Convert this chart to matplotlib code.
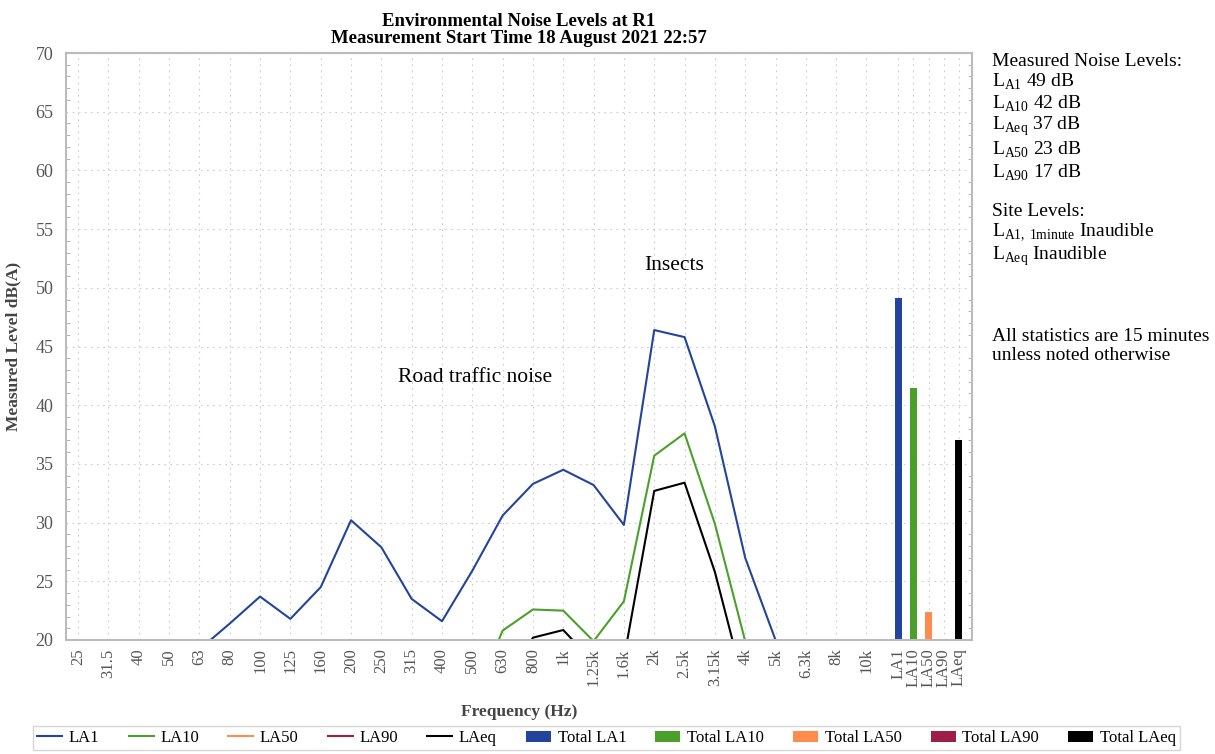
import numpy as np
import matplotlib
matplotlib.use("Agg")
import matplotlib.pyplot as plt
from matplotlib.ticker import MultipleLocator

plt.rcParams['font.family'] = ['Liberation Serif', 'DejaVu Serif']
plt.rcParams['mathtext.fontset'] = 'custom'
plt.rcParams['mathtext.rm'] = 'Liberation Serif'

# ---- data ----
freqs = ['25', '31.5', '40', '50', '63', '80', '100', '125', '160', '200', '250', '315',
         '400', '500', '630', '800', '1k', '1.25k', '1.6k', '2k', '2.5k', '3.15k', '4k',
         '5k', '6.3k', '8k', '10k']
stats = ['LA1', 'LA10', 'LA50', 'LA90', 'LAeq']

la1 = [12.0, 13.0, 14.0, 16.0, 19.2, 21.4, 23.7, 21.8, 24.5, 30.2, 27.9, 23.5, 21.6, 25.9,
       30.6, 33.3, 34.5, 33.2, 29.8, 46.4, 45.8, 38.2, 27.0, 20.0, 16.0, 14.0, 12.0]
la10 = [8.0, 9.0, 10.0, 11.0, 12.0, 13.0, 14.0, 13.0, 14.0, 16.0, 15.0, 14.0, 13.0, 14.6,
        20.8, 22.6, 22.5, 19.9, 23.3, 35.7, 37.6, 29.9, 19.9, 16.0, 13.0, 11.0, 9.0]
la50 = [5.0, 6.0, 7.0, 8.0, 9.0, 10.0, 11.0, 10.0, 11.0, 12.0, 12.0, 11.0, 10.0, 11.0,
        12.0, 13.0, 13.0, 12.0, 13.0, 18.0, 19.0, 16.0, 11.0, 8.0, 7.0, 6.0, 5.0]
la90 = [3.0, 4.0, 5.0, 6.0, 7.0, 8.0, 9.0, 8.0, 9.0, 10.0, 10.0, 9.0, 8.0, 9.0,
        10.0, 11.0, 11.0, 10.0, 11.0, 14.0, 15.0, 13.0, 9.0, 6.0, 5.0, 4.0, 3.0]
laeq = [8.0, 9.0, 10.0, 11.0, 12.0, 13.0, 14.0, 13.0, 14.0, 15.0, 14.0, 13.0, 12.0, 13.0,
        15.3, 20.2, 20.85, 18.1, 18.4, 32.7, 33.4, 25.8, 15.8, 12.0, 10.0, 9.0, 8.0]
totals = [49.1, 41.5, 22.4, 17.0, 37.0]

line_colors = ['#22449c', '#4aa02a', '#ff8c4c', '#9e1f45', '#000000']
series = [('LA1', la1), ('LA10', la10), ('LA50', la50), ('LA90', la90), ('LAeq', laeq)]

# ---- figure ----
fig = plt.figure(figsize=(12.15, 7.54), dpi=100)
ax = fig.add_axes([66 / 1215, 1 - 640 / 754, (972 - 66) / 1215, (640 - 53) / 754])
ax.set_axisbelow(True)

xf = np.arange(len(freqs))
xs = len(freqs) + 0.05 + 0.5 * np.arange(len(stats))

for (name, vals), c in zip(series, line_colors):
    ax.plot(xf, vals, color=c, lw=1.5, label=name)

for name, v, c, x in zip(stats, totals, line_colors, xs):
    ax.bar(x, v - 20, bottom=20, width=0.23, color=c, label='Total ' + name, zorder=2)

ax.set_ylim(20, 70)
ax.set_xlim(-0.4, 29.48)
ax.yaxis.set_major_locator(MultipleLocator(5))
ax.yaxis.set_minor_locator(MultipleLocator(1))
ax.set_xticks(np.concatenate([xf, xs]))
ax.set_xticklabels(freqs + stats, rotation=90, fontsize=12, color='#555555')
ax.tick_params(axis='x', length=0, pad=6)
ax.tick_params(axis='y', which='major', labelsize=13, labelcolor='#555555',
               length=0, pad=9)
ax.tick_params(axis='y', which='minor', direction='in', length=3, color='#aaaaaa',
               left=True, right=True)
ax.grid(True, which='major', linestyle=(0, (1.5, 4)), color='#cccccc', lw=0.8)
for s in ax.spines.values():
    s.set_color('#bbbbbb')
    s.set_linewidth(1.5)

ax.set_ylabel('Measured Level dB(A)', fontsize=12.5, fontweight='bold', color='#444444',
              labelpad=10)
ax.set_xlabel('Frequency (Hz)', fontsize=12.5, fontweight='bold', color='#444444',
              labelpad=12)
ax.set_title('Environmental Noise Levels at R1\nMeasurement Start Time 18 August 2021 22:57',
             fontsize=13.5, fontweight='bold', pad=7, linespacing=1.05)

ax.text(13.1, 42.4, 'Road traffic noise', fontsize=15.5, ha='center', va='center')
ax.text(19.65, 51.9, 'Insects', fontsize=15.5, ha='center', va='center')

# ---- side notes ----
notes = [(61, 'Measured Noise Levels:'),
         (82, r'L$_{\mathrm{A1}}$ 49 dB'),
         (104, r'L$_{\mathrm{A10}}$ 42 dB'),
         (126, r'L$_{\mathrm{Aeq}}$ 37 dB'),
         (150, r'L$_{\mathrm{A50}}$ 23 dB'),
         (173, r'L$_{\mathrm{A90}}$ 17 dB'),
         (211, 'Site Levels:'),
         (232, r'L$_{\mathrm{A1,\,1minute}}$ Inaudible'),
         (256, r'L$_{\mathrm{Aeq}}$ Inaudible'),
         (336, 'All statistics are 15 minutes'),
         (356, 'unless noted otherwise')]
for y, t in notes:
    fig.text(992 / 1215, 1 - y / 754, t, fontsize=14, va='center', ha='left')

leg = fig.legend(loc='upper left', bbox_to_anchor=(33 / 1215, 1 - 726 / 754), ncol=10,
                 fontsize=12, frameon=True, fancybox=False, handlelength=1.5,
                 columnspacing=1.75, handletextpad=0.4, borderpad=0.25,
                 borderaxespad=0)
leg.get_frame().set_edgecolor('#cccccc')

fig.savefig('out.png', dpi=100)
